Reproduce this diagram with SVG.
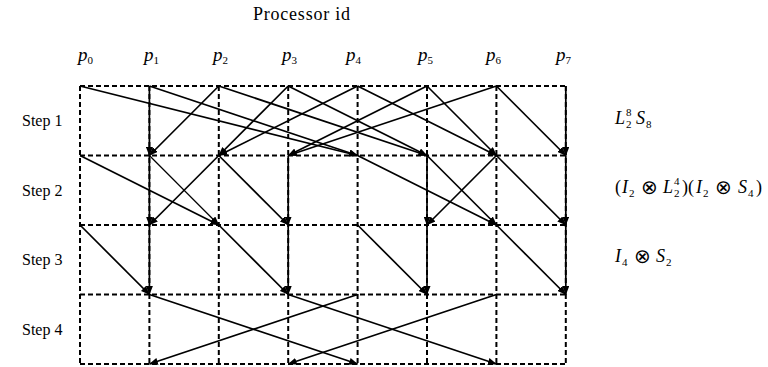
<svg xmlns="http://www.w3.org/2000/svg" width="768" height="367" viewBox="0 0 768 367">
<style>
  .grid line { stroke: #000; stroke-width: 2; stroke-dasharray: 5 3; }
  .conn line { stroke: #000; stroke-width: 1.7; marker-end: url(#ah); }
  text { font-family: "Liberation Serif", "DejaVu Serif", serif; fill: #000; }
  .lbl { font-size: 16px; }
  .ttl { font-size: 18px; }
  .f { font-size: 18px; }
  .it { font-style: italic; }
  .sm { font-size: 11px; font-style: normal; }
  .op { font-family: "DejaVu Sans", sans-serif; font-size: 20px; }
  .pl { font-size: 19px; font-style: italic; }
</style>
<defs>
  <marker id="ah" markerUnits="userSpaceOnUse" markerWidth="9" markerHeight="7" refX="8.5" refY="3.5" orient="auto">
    <path d="M0,0 L9,3.5 L0,7 z" fill="#000"/>
  </marker>
</defs>
<rect width="768" height="367" fill="#fff"/>

<g id="title"><text class="ttl" x="253" y="20" textLength="97" lengthAdjust="spacing">Processor id</text></g>

<g id="proc-labels">
  <g id="p0"><text class="pl" x="78" y="61">p<tspan class="sm" dy="3">0</tspan></text></g>
  <g id="p1"><text class="pl" x="144" y="61">p<tspan class="sm" dy="3">1</tspan></text></g>
  <g id="p2"><text class="pl" x="213" y="61">p<tspan class="sm" dy="3">2</tspan></text></g>
  <g id="p3"><text class="pl" x="282" y="61">p<tspan class="sm" dy="3">3</tspan></text></g>
  <g id="p4"><text class="pl" x="346" y="61">p<tspan class="sm" dy="3">4</tspan></text></g>
  <g id="p5"><text class="pl" x="418" y="61">p<tspan class="sm" dy="3">5</tspan></text></g>
  <g id="p6"><text class="pl" x="486" y="61">p<tspan class="sm" dy="3">6</tspan></text></g>
  <g id="p7"><text class="pl" x="556" y="61">p<tspan class="sm" dy="3">7</tspan></text></g>
</g>

<g id="step-labels">
  <g id="step1"><text class="lbl" x="22" y="126">Step 1</text></g>
  <g id="step2"><text class="lbl" x="22" y="195.5">Step 2</text></g>
  <g id="step3"><text class="lbl" x="22" y="265">Step 3</text></g>
  <g id="step4"><text class="lbl" x="22" y="334.5">Step 4</text></g>
</g>

<g id="formulas">
  <g id="f1"><text class="f" y="124"><tspan class="it" x="615">L</tspan><tspan class="sm" x="626" dy="-8">8</tspan><tspan class="sm" x="626" dy="12">2</tspan><tspan class="it" x="636" dy="-4">S</tspan><tspan class="sm" x="646" dy="4">8</tspan></text></g>
  <g id="f2"><text class="f" y="193"><tspan x="615">(</tspan><tspan class="it" x="622">I</tspan><tspan class="sm" x="629" dy="4">2</tspan><tspan class="op" x="641" dy="-3">⊗</tspan><tspan class="it" x="663" dy="-1">L</tspan><tspan class="sm" x="674" dy="-8">4</tspan><tspan class="sm" x="674" dy="12">2</tspan><tspan x="682" dy="-4">)(</tspan><tspan class="it" x="696">I</tspan><tspan class="sm" x="703" dy="4">2</tspan><tspan class="op" x="715" dy="-3">⊗</tspan><tspan class="it" x="738" dy="-1">S</tspan><tspan class="sm" x="748" dy="4">4</tspan><tspan x="756" dy="-4">)</tspan></text></g>
  <g id="f3"><text class="f" y="262"><tspan class="it" x="615">I</tspan><tspan class="sm" x="622" dy="4">4</tspan><tspan class="op" x="634" dy="-3">⊗</tspan><tspan class="it" x="656" dy="-1">S</tspan><tspan class="sm" x="666" dy="4">2</tspan></text></g>
</g>

<g id="grid" class="grid">
  <line x1="80" y1="86" x2="565.8" y2="86"/>
  <line x1="80" y1="155.5" x2="565.8" y2="155.5"/>
  <line x1="80" y1="225" x2="565.8" y2="225"/>
  <line x1="80" y1="294.5" x2="565.8" y2="294.5"/>
  <line x1="80" y1="364" x2="565.8" y2="364"/>
  <line x1="80" y1="86" x2="80" y2="364"/>
  <line x1="149.4" y1="86" x2="149.4" y2="364"/>
  <line x1="218.8" y1="86" x2="218.8" y2="364"/>
  <line x1="288.2" y1="86" x2="288.2" y2="364"/>
  <line x1="357.6" y1="86" x2="357.6" y2="364"/>
  <line x1="427" y1="86" x2="427" y2="364"/>
  <line x1="496.4" y1="86" x2="496.4" y2="364"/>
  <line x1="565.8" y1="86" x2="565.8" y2="364"/>
</g>

<g id="connectors" class="conn">
  <!-- Step 1 -->
  <line x1="80" y1="86" x2="357.6" y2="155.5"/>
  <line x1="149.4" y1="86" x2="357.6" y2="155.5"/>
  <line x1="149.4" y1="86" x2="149.4" y2="155.5"/>
  <line x1="218.8" y1="86" x2="149.4" y2="155.5"/>
  <line x1="218.8" y1="86" x2="427" y2="155.5"/>
  <line x1="288.2" y1="86" x2="427" y2="155.5"/>
  <line x1="288.2" y1="86" x2="218.8" y2="155.5"/>
  <line x1="357.6" y1="86" x2="218.8" y2="155.5"/>
  <line x1="357.6" y1="86" x2="496.4" y2="155.5"/>
  <line x1="427" y1="86" x2="496.4" y2="155.5"/>
  <line x1="427" y1="86" x2="288.2" y2="155.5"/>
  <line x1="496.4" y1="86" x2="288.2" y2="155.5"/>
  <line x1="496.4" y1="86" x2="565.8" y2="155.5"/>
  <line x1="565.8" y1="86" x2="565.8" y2="155.5"/>
  <!-- Step 2 -->
  <line x1="80" y1="155.5" x2="218.8" y2="225"/>
  <line x1="149.4" y1="155.5" x2="149.4" y2="225"/>
  <line x1="149.4" y1="155.5" x2="218.8" y2="225" style="stroke-width:1.2"/>
  <line x1="218.8" y1="155.5" x2="149.4" y2="225"/>
  <line x1="218.8" y1="155.5" x2="288.2" y2="225"/>
  <line x1="288.2" y1="155.5" x2="288.2" y2="225"/>
  <line x1="357.6" y1="155.5" x2="496.4" y2="225"/>
  <line x1="427" y1="155.5" x2="427" y2="225"/>
  <line x1="427" y1="155.5" x2="496.4" y2="225"/>
  <line x1="496.4" y1="155.5" x2="427" y2="225"/>
  <line x1="496.4" y1="155.5" x2="565.8" y2="225"/>
  <line x1="565.8" y1="155.5" x2="565.8" y2="225"/>
  <!-- Step 3 -->
  <line x1="80" y1="225" x2="149.4" y2="294.5"/>
  <line x1="149.4" y1="225" x2="149.4" y2="294.5"/>
  <line x1="218.8" y1="225" x2="288.2" y2="294.5"/>
  <line x1="288.2" y1="225" x2="288.2" y2="294.5"/>
  <line x1="357.6" y1="225" x2="427" y2="294.5"/>
  <line x1="427" y1="225" x2="427" y2="294.5"/>
  <line x1="496.4" y1="225" x2="565.8" y2="294.5"/>
  <line x1="565.8" y1="225" x2="565.8" y2="294.5"/>
  <!-- Step 4 -->
  <line x1="149.4" y1="294.5" x2="357.6" y2="364"/>
  <line x1="357.6" y1="294.5" x2="149.4" y2="364"/>
  <line x1="288.2" y1="294.5" x2="496.4" y2="364"/>
  <line x1="496.4" y1="294.5" x2="288.2" y2="364"/>
</g>
</svg>
